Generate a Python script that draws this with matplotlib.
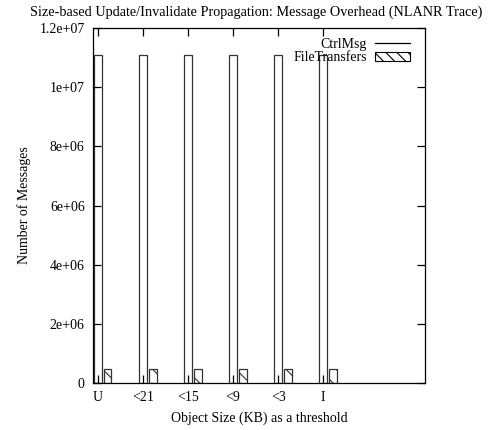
"""Size-based update/invalidate propagation: message overhead (NLANR trace)."""

import matplotlib
matplotlib.use("Agg")
import matplotlib.pyplot as plt
import numpy as np
from matplotlib.lines import Line2D
from matplotlib.patches import Patch

categories = ["U", "<21", "<15", "<9", "<3", "I"]
ctrl_msg = [1.11e7, 1.11e7, 1.11e7, 1.11e7, 1.11e7, 1.11e7]
file_transfers = [4.9e5, 4.9e5, 4.9e5, 4.9e5, 4.9e5, 4.9e5]
y_ticks = [0, 2e6, 4e6, 6e6, 8e6, 1e7, 1.2e7]
y_tick_labels = ["0", "2e+06", "4e+06", "6e+06", "8e+06", "1e+07", "1.2e+07"]

plt.rcParams.update({
    "font.family": ["Liberation Serif", "DejaVu Serif"],
    "font.size": 10,
    "hatch.linewidth": 0.8,
    "axes.linewidth": 0.9,
})

fig = plt.figure(figsize=(4.93, 4.30), dpi=100)
ax = fig.add_axes([93 / 493, 1 - 383 / 430, (425 - 93) / 493, (383 - 28) / 430])

x = np.arange(len(categories))
ax.bar(x, ctrl_msg, width=0.18, facecolor="white", edgecolor="#333333", linewidth=0.9)
ax.bar(x + 0.215, file_transfers, width=0.17, facecolor="white", edgecolor="#333333",
       linewidth=0.9, hatch="\\\\")

ax.set_xlim(-0.11, 7.26)
ax.set_ylim(0, 1.2e7)
ax.set_xticks(x)
ax.set_xticklabels(categories)
ax.set_yticks(y_ticks)
ax.set_yticklabels(y_tick_labels)
ax.tick_params(direction="in", length=6, width=0.9, top=True, right=True, pad=6)

ax.set_xlabel("Object Size (KB) as a threshold", labelpad=5)
ax.set_ylabel("Number of Messages", labelpad=6)
fig.text(256 / 493, 1 - 12 / 430, "Size-based Update/Invalidate Propagation: Message Overhead (NLANR Trace)",
         ha="center", va="center", fontsize=10.3)

handles = [
    Line2D([0], [0], color="black", linewidth=0.9),
    Patch(facecolor="white", edgecolor="black", hatch="\\\\\\", linewidth=0.8),
]
ax.legend(handles, ["CtrlMsg", "FileTransfers"], loc="upper right",
          bbox_to_anchor=(410 / 493, 1 - 38 / 430), bbox_transform=fig.transFigure,
          frameon=False, markerfirst=False, handlelength=2.5, handleheight=0.6,
          handletextpad=0.6, labelspacing=0.0, borderpad=0, borderaxespad=0)

fig.savefig("out.png", dpi=100)
